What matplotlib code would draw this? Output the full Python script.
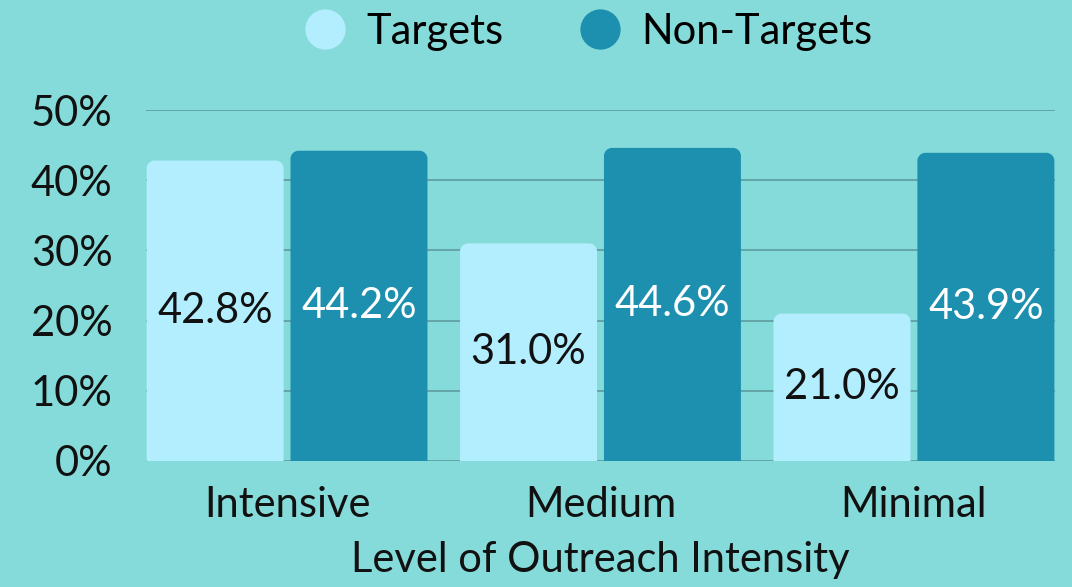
import matplotlib
matplotlib.use("Agg")
import matplotlib.pyplot as plt
from matplotlib.path import Path
from matplotlib.patches import PathPatch
from matplotlib.lines import Line2D
import numpy as np

categories = ["Intensive", "Medium", "Minimal"]
targets = [42.8, 31.0, 21.0]
non_targets = [44.2, 44.6, 43.9]
series_names = ["Targets", "Non-Targets"]
yticks = [0, 10, 20, 30, 40, 50]

BG = "#85DBDA"
C_T = "#B3EEFF"
C_N = "#1E90AF"
GRID = "#5E9C9E"
FS = 30
FW = 'normal'

plt.rcParams['font.family'] = ['Lato', 'DejaVu Sans']

fig = plt.figure(figsize=(10.72, 5.87), dpi=100, facecolor=BG)
ax = fig.add_axes([146/1072, 1-461/587, (1055-146)/1072, (461-110)/587])
ax.set_facecolor(BG)

x = np.arange(len(categories))
w = 0.437
off = w/2 + 0.011

def rounded_bar(ax, xc, h, width, color, r_px=8):
    px_x = (1055-146) / 2.9
    px_y = (461-110) / 50.0
    rx = r_px / px_x
    ry = min(r_px / px_y, h/2)
    x0, x1 = xc - width/2, xc + width/2
    k = 0.5523
    verts = [
        (x0, 0), (x0, h-ry),
        (x0, h-ry + k*ry), (x0 + rx - k*rx, h), (x0+rx, h),
        (x1-rx, h),
        (x1 - rx + k*rx, h), (x1, h - ry + k*ry), (x1, h-ry),
        (x1, 0), (x0, 0)]
    codes = [Path.MOVETO, Path.LINETO,
             Path.CURVE4, Path.CURVE4, Path.CURVE4,
             Path.LINETO,
             Path.CURVE4, Path.CURVE4, Path.CURVE4,
             Path.LINETO, Path.CLOSEPOLY]
    ax.add_patch(PathPatch(Path(verts, codes), facecolor=color, edgecolor='none', zorder=3))

for i in range(len(categories)):
    rounded_bar(ax, x[i]-off, targets[i], w, C_T)
    rounded_bar(ax, x[i]+off, non_targets[i], w, C_N)
    ax.text(x[i]-off, targets[i]/2, f"{targets[i]:.1f}%", ha='center', va='center',
            fontsize=FS, fontweight=FW, color='#111111', zorder=4)
    ax.text(x[i]+off, non_targets[i]/2, f"{non_targets[i]:.1f}%", ha='center', va='center',
            fontsize=FS, fontweight=FW, color='white', zorder=4)

ax.set_xlim(-0.45, 2.45)
ax.set_ylim(0, 50)
ax.set_yticks(yticks)
ax.set_yticklabels([f"{v}%" for v in yticks], fontsize=FS, fontweight=FW, color='#111111')
ax.set_xticks(x)
ax.set_xticklabels(categories, fontsize=FS, fontweight=FW, color='#111111')
ax.tick_params(axis='both', length=0)
ax.tick_params(axis='y', pad=24)
ax.tick_params(axis='x', pad=18)
for s in ax.spines.values():
    s.set_visible(False)
ax.yaxis.grid(True, color=GRID, linewidth=1.2, zorder=0)
ax.set_axisbelow(True)
ax.set_xlabel("Level of Outreach Intensity", fontsize=FS, fontweight=FW, color='#111111', labelpad=12)

handles = [Line2D([], [], marker='o', linestyle='none', markersize=29, markerfacecolor=C_T, markeredgecolor='none'),
           Line2D([], [], marker='o', linestyle='none', markersize=29, markerfacecolor=C_N, markeredgecolor='none')]
fig.legend(handles, series_names, loc='center', bbox_to_anchor=(584/1072, 1-32/587), ncol=2,
           frameon=False, prop={'size': FS, 'weight': FW}, handlelength=1.4,
           handletextpad=0.3, columnspacing=1.6)

fig.savefig("out.png", dpi=100, facecolor=BG)
